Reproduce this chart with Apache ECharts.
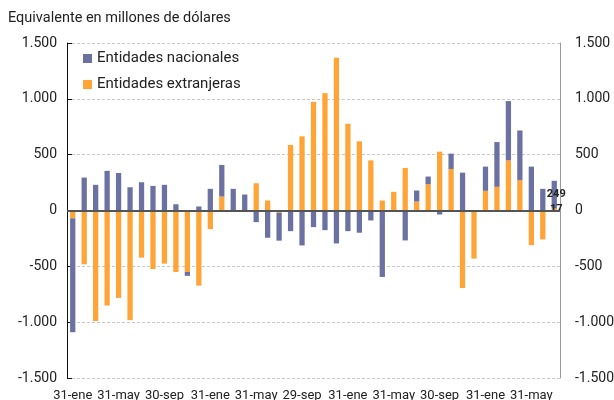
<!DOCTYPE html>
<html>
<head>
<meta charset="utf-8">
<script src="https://cdn.jsdelivr.net/npm/echarts@6/dist/echarts.min.js"></script>
<style>html,body{margin:0;padding:0;background:#fff}#c{width:614px;height:400px}</style>
</head>
<body>
<div id="c"></div>
<script>
const categories = [
  '31-ene','28-feb','31-mar','30-abr','31-may','30-jun','31-jul','31-ago','30-sep','31-oct','30-nov','31-dic',
  '31-ene','28-feb','31-mar','30-abr','31-may','30-jun','31-jul','31-ago','29-sep','31-oct','30-nov','31-dic',
  '31-ene','28-feb','31-mar','30-abr','31-may','30-jun','31-jul','31-ago','30-sep','31-oct','30-nov','31-dic',
  '31-ene','28-feb','31-mar','30-abr','31-may','30-jun','31-jul'
];
const nacionales = [
  -1020, 295, 230, 355, 336, 208, 253, 220, 230, 56, -35, 36,
  194, 283, 194, 143, -104, -244, -250, -185, -313, -149, -176, -295,
  -185, -199, -89, -595, -10, -268, 99, 69, -36, 137, 339, 0,
  217, 401, 531, 446, 393, 194, 249
];
const extranjeras = [
  -70, -482, -990, -851, -783, -982, -422, -524, -476, -551, -550, -673,
  -167, 125, 0, 0, 244, 89, -20, 587, 664, 973, 1051, 1369,
  777, 619, 449, 89, 167, 381, 80, 235, 527, 372, -694, -431,
  176, 212, 449, 271, -310, -259, 17
];
const yTicks = [-1500, -1000, -500, 0, 500, 1000, 1500];

const FONT = 'Roboto';
const fmt = v => {
  const s = Math.abs(v).toString().replace(/\B(?=(\d{3})+(?!\d))/g, '.');
  return (v < 0 ? '-' : '') + s;
};
const lastLabel = {
  show: true, position: 'inside', offset: [2, 0], color: '#222',
  fontFamily: FONT, fontWeight: 'bold', fontSize: 11
};
const withLast = arr => arr.map((v, i) => i === arr.length - 1 ? { value: v, label: lastLabel } : v);

const chart = echarts.init(document.getElementById('c'), null, { renderer: 'canvas' });
const yCommon = {
  type: 'value', min: yTicks[0], max: yTicks[yTicks.length - 1], interval: 500
};
chart.setOption({
  animation: false,
  textStyle: { fontFamily: FONT },
  title: {
    text: 'Equivalente en millones de dólares', left: 3, top: 6,
    textStyle: { fontFamily: FONT, fontSize: 14.5, fontWeight: 'normal', color: '#222' }
  },
  legend: {
    data: ['Entidades nacionales', 'Entidades extranjeras'],
    orient: 'vertical', left: 78, top: 46, itemWidth: 9, itemHeight: 9, itemGap: 11,
    icon: 'rect',
    textStyle: { fontFamily: FONT, fontSize: 15, color: '#222' }
  },
  grid: { left: 67, right: 54, top: 43, bottom: 22, containLabel: false, outerBoundsMode: 'none' },
  xAxis: {
    type: 'category', data: categories,
    axisLine: { show: false }, axisTick: { show: false },
    axisLabel: { interval: 3, fontFamily: FONT, fontSize: 13, color: '#222', margin: 11 }
  },
  yAxis: [
    Object.assign({}, yCommon, {
      position: 'left',
      axisLine: { show: true, lineStyle: { color: '#111', width: 1 } },
      axisTick: { show: true, inside: true, length: 5, lineStyle: { color: '#111' } },
      axisLabel: { formatter: fmt, fontFamily: FONT, fontSize: 14, color: '#222', margin: 10 },
      splitLine: { show: true, lineStyle: { color: '#c8c8c8', type: [3, 2] } }
    }),
    Object.assign({}, yCommon, {
      position: 'right',
      axisLine: { show: true, lineStyle: { color: '#999', width: 1 } },
      axisTick: { show: false },
      axisLabel: { formatter: fmt, fontFamily: FONT, fontSize: 14, color: '#222', margin: 15 },
      splitLine: { show: false }
    })
  ],
  series: [
    {
      name: 'Entidades extranjeras', type: 'bar', stack: 'total', barWidth: '46%',
      itemStyle: { color: '#FFA436' },
      data: withLast(extranjeras),
      markLine: {
        silent: true, symbol: 'none', label: { show: false },
        lineStyle: { color: '#555', width: 2, type: 'solid' },
        data: [{ yAxis: 0 }]
      },
      z: 2
    },
    {
      name: 'Entidades nacionales', type: 'bar', stack: 'total', barWidth: '46%',
      itemStyle: { color: '#6B72A2' },
      data: withLast(nacionales),
      z: 2
    }
  ]
});
</script>
</body>
</html>
